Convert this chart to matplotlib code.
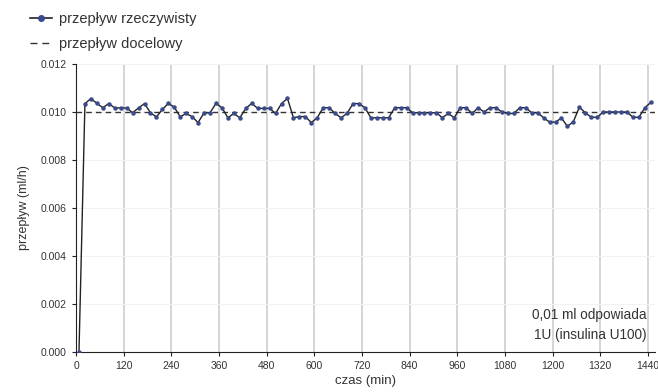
import numpy as np
import matplotlib
matplotlib.use("Agg")
import matplotlib.pyplot as plt
from matplotlib.lines import Line2D

plt.rcParams['font.family'] = ['Liberation Sans Narrow', 'Liberation Sans', 'DejaVu Sans']

# time of each measurement (min), one every 15 min
czas = 7.5 + 15 * np.arange(97)

przeplyw = [
    0.0,
    0.01035, 0.01056, 0.01036, 0.01018, 0.01035, 0.01017, 0.01017, 0.01017,
    0.00997, 0.01017, 0.01035, 0.00997, 0.00979, 0.01011, 0.01036,
    0.01020, 0.00980, 0.00994, 0.00980, 0.00956, 0.00997, 0.00997, 0.01036,
    0.01018, 0.00976, 0.00994, 0.00976, 0.01015, 0.01036, 0.01015, 0.01015, 0.01015,
    0.00994, 0.01035, 0.01057, 0.00976, 0.00981, 0.00981, 0.00956, 0.00976,
    0.01018, 0.01018, 0.00994, 0.00976, 0.00994, 0.01035, 0.01035, 0.01018,
    0.00976, 0.00976, 0.00976, 0.00976, 0.01018, 0.01018, 0.01018, 0.00997,
    0.00997, 0.00997, 0.00997, 0.00997, 0.00976, 0.00994, 0.00976, 0.01018,
    0.01018, 0.00994, 0.01018, 0.01000, 0.01018, 0.01018, 0.01000, 0.00994,
    0.00994, 0.01018, 0.01018, 0.00997, 0.00997, 0.00976, 0.00958, 0.00958,
    0.00975, 0.00940, 0.00960, 0.01020, 0.00997, 0.00978, 0.00978, 0.01000,
    0.01000, 0.01000, 0.01000, 0.01000, 0.00978, 0.00978, 0.01018, 0.01040,
]

docelowy = 0.010
x_ticks = list(range(0, 1441, 120))
y_ticks = [0.000, 0.002, 0.004, 0.006, 0.008, 0.010, 0.012]

fig = plt.figure(figsize=(6.58, 3.92), dpi=100)
ax = fig.add_axes([76 / 658, 1 - 352 / 392, (655 - 76) / 658, (352 - 64) / 392])

ax.axhline(docelowy, color='#333333', lw=1.0, ls=(0, (4, 3)), zorder=2)
ax.plot(czas, przeplyw, color='#222222', lw=1.0, marker='o', ms=2.2,
        mfc='#3b4a8c', mec='#3b4a8c', zorder=3)

ax.set_xlim(0, 1458)
ax.set_ylim(0, 0.012)
ax.set_xticks(x_ticks)
ax.set_yticks(y_ticks)
ax.set_yticklabels([f"{v:.3f}" for v in y_ticks])
ax.tick_params(labelsize=7.5, length=3, color='#222222', labelcolor='#333333')

for x in x_ticks[1:]:
    ax.axvline(x, color='#d2d2d2', lw=1.3, zorder=0)
for y in y_ticks[1:]:
    ax.axhline(y, color='#f2f2f2', lw=0.8, zorder=0)

for s in ['top', 'right']:
    ax.spines[s].set_visible(False)
for s in ['left', 'bottom']:
    ax.spines[s].set_color('#222222')

ax.set_xlabel('czas (min)', fontsize=9.5, color='#333333', labelpad=3)
ax.set_ylabel('przepływ (ml/h)', fontsize=9, color='#333333', labelpad=8)

ax.text(0.985, 0.035, '0,01 ml odpowiada\n1U (insulina U100)', transform=ax.transAxes,
        ha='right', va='bottom', fontsize=9.8, color='#333333', linespacing=1.5)

handles = [
    Line2D([], [], color='#222222', lw=1.2, marker='o', ms=4, mfc='#3b4a8c', mec='#3b4a8c'),
    Line2D([], [], color='#333333', lw=1.0, ls=(0, (5, 3.5))),
]
fig.legend(handles, ['przepływ rzeczywisty', 'przepływ docelowy'], loc='upper left',
           bbox_to_anchor=(17 / 658, 1 + 1 / 392), frameon=False, fontsize=10.5,
           handlelength=1.5, handletextpad=0.5, labelspacing=0.72, labelcolor='#333333')

fig.savefig('out.png', dpi=100)
